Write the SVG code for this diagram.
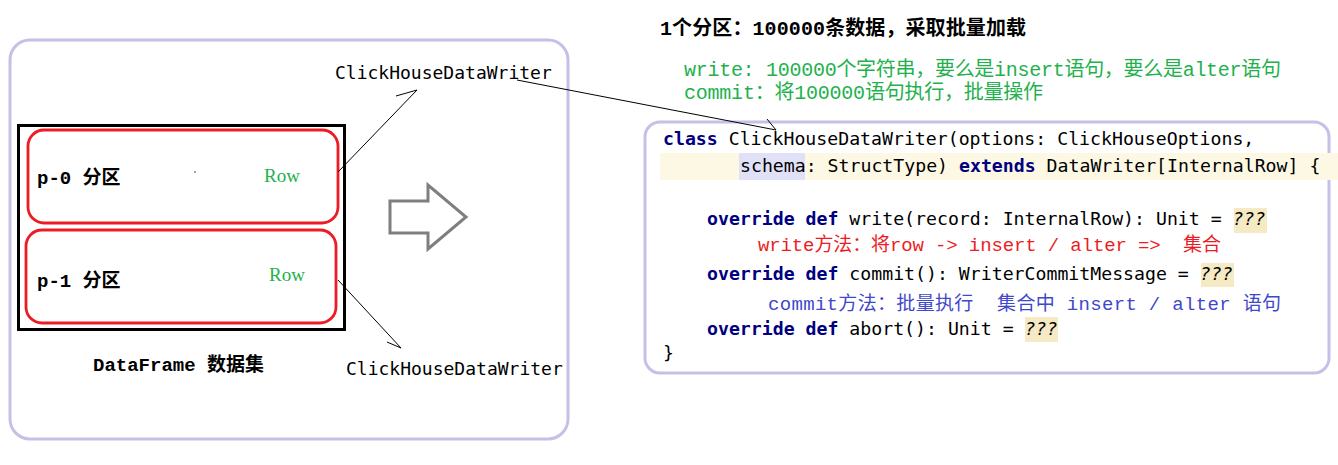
<svg xmlns="http://www.w3.org/2000/svg" width="1338" height="465" viewBox="0 0 1338 465">
<style>
.panel{fill:#fff;stroke:#c8bfe7;stroke-width:3}
.part{fill:none;stroke:#ed1c24;stroke-width:2.8}
.cn{font-family:"Liberation Mono","Noto Sans CJK SC",monospace}
.lbl{font-family:"Liberation Mono","Noto Sans CJK SC",monospace;font-size:19px;font-weight:bold;fill:#000}
.mono{font-family:"DejaVu Sans Mono",monospace;font-size:18px;fill:#000}
.code{font-family:"DejaVu Sans Mono",monospace;font-size:18.2px;fill:#000}
.kw{font-weight:bold;fill:#000080}
.q{font-style:italic}
.green{fill:#22b14c}
.row{font-family:"Liberation Serif",serif;font-size:19px;fill:#22b14c}
.conn{fill:none;stroke:#000;stroke-width:1}
.qbg{fill:#f5eac3}
</style>
<rect width="1338" height="465" fill="#fff"/>

<g id="dataframe-panel">
<rect class="panel" x="10" y="40" width="558" height="399" rx="20"/>
<rect x="18.5" y="125.5" width="326" height="204" fill="none" stroke="#000" stroke-width="3"/>
<text class="lbl" x="93" y="371">DataFrame 数据集</text>
<circle cx="195" cy="172" r="0.7" fill="#000"/>
</g>

<g id="partition-0">
<rect class="part" x="28" y="130" width="310" height="93" rx="16"/>
<text class="lbl" x="37" y="184">p-0 分区</text>
<text class="row" x="264" y="182">Row</text>
</g>

<g id="partition-1">
<rect class="part" x="26" y="230" width="310" height="93" rx="16"/>
<text class="lbl" x="37" y="287">p-1 分区</text>
<text class="row" x="269" y="281">Row</text>
</g>

<g id="writer-0">
<text class="mono" x="335" y="79">ClickHouseDataWriter</text>
</g>
<g id="writer-1">
<text class="mono" x="346" y="375">ClickHouseDataWriter</text>
</g>

<g id="big-arrow">
<polygon points="390,201 428,201 428,185 466,217 428,249 428,233 390,233" fill="#fff" stroke="#7f7f7f" stroke-width="3"/>
</g>

<g id="notes">
<text class="cn" x="660" y="35" font-size="20" font-weight="bold" textLength="366">1个分区：100000条数据，采取批量加载</text>
<text class="cn green" x="684" y="76" font-size="20" textLength="597">write: 100000个字符串，要么是insert语句，要么是alter语句</text>
<text class="cn green" x="684" y="99" font-size="20" textLength="359">commit：将100000语句执行，批量操作</text>
</g>

<g id="code-box">
<rect class="panel" x="645" y="122" width="684" height="251" rx="15"/>
<rect x="660" y="153" width="678" height="27" fill="#fdf8e4"/>
<rect x="739" y="153" width="66" height="27" fill="#e0e0f7"/>
<rect class="qbg" x="1234" y="208" width="33" height="25"/>
<rect class="qbg" x="1201" y="263" width="33" height="24"/>
<rect class="qbg" x="1025" y="317" width="33" height="25"/>
<text class="code" x="663" y="145"><tspan class="kw">class</tspan> ClickHouseDataWriter(options: ClickHouseOptions,</text>
<text class="code" x="740" y="172">schema: StructType) <tspan class="kw">extends</tspan> DataWriter[InternalRow] {</text>
<text class="code" x="707" y="225"><tspan class="kw">override def</tspan> write(record: InternalRow): Unit = <tspan class="q">???</tspan></text>
<text class="cn" x="758" y="251" font-size="19" fill="#ed1c24" xml:space="preserve" textLength="463">write方法：将row -&gt; insert / alter =&gt;  集合</text>
<text class="code" x="707" y="280"><tspan class="kw">override def</tspan> commit(): WriterCommitMessage = <tspan class="q">???</tspan></text>
<text class="cn" x="768" y="310" font-size="19" fill="#3f48cc" xml:space="preserve" textLength="513">commit方法：批量执行  集合中 insert / alter 语句</text>
<text class="code" x="707" y="335"><tspan class="kw">override def</tspan> abort(): Unit = <tspan class="q">???</tspan></text>
<text class="code" x="663" y="359">}</text>
</g>

<g id="connectors">
<path class="conn" d="M338,172 L417,90 L396,96"/>
<path class="conn" d="M517,80 L776,130 L767,119"/>
<path class="conn" d="M338,280 L401,348 L387,342"/>
</g>
</svg>
